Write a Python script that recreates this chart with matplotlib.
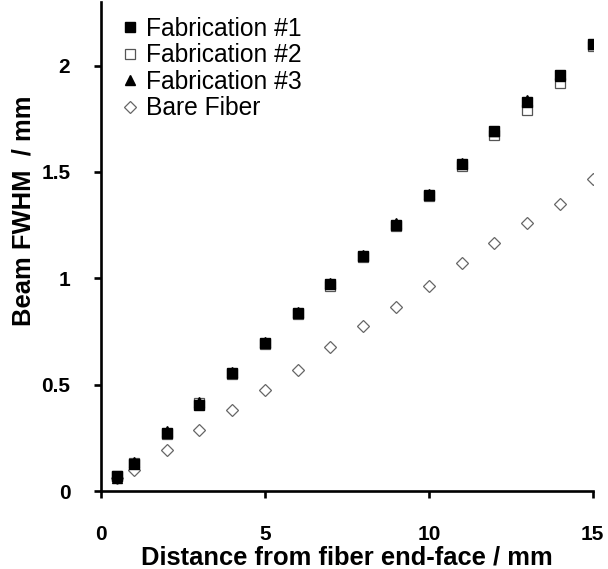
import matplotlib
matplotlib.use("Agg")
import matplotlib.pyplot as plt

plt.rcParams['font.family'] = ['Liberation Sans', 'DejaVu Sans']

# distance from fiber end-face (mm)
distance = [0.5, 1, 2, 3, 4, 5, 6, 7, 8, 9, 10, 11, 12, 13, 14, 15]
# beam FWHM (mm)
fab1 = [0.07, 0.125, 0.275, 0.405, 0.555, 0.695, 0.835, 0.975, 1.105, 1.25, 1.39, 1.535, 1.69, 1.83, 1.955, 2.10]
fab2 = [0.07, 0.13, 0.27, 0.415, 0.55, 0.69, 0.83, 0.965, 1.10, 1.245, 1.385, 1.53, 1.675, 1.79, 1.92, 2.09]
fab3 = [0.06, 0.135, 0.28, 0.42, 0.56, 0.70, 0.84, 0.98, 1.11, 1.26, 1.395, 1.54, 1.69, 1.84, 1.95, 2.10]
bare = [0.06, 0.10, 0.195, 0.285, 0.38, 0.475, 0.57, 0.675, 0.775, 0.865, 0.965, 1.07, 1.165, 1.26, 1.35, 1.465]

fig = plt.figure(figsize=(6.08, 5.69), dpi=100)
ax = fig.add_axes([0.166, 0.137, 0.809, 0.86])

ax.plot(distance, fab1, 's', ms=6.5, color='black', mec='black', label='Fabrication #1', zorder=3)
ax.plot(distance, fab2, 's', ms=6.8, mfc='white', mec='#555555', mew=0.9, label='Fabrication #2', zorder=2)
ax.plot(distance, fab3, '^', ms=7, color='black', label='Fabrication #3', zorder=4)
ax.plot(distance, bare, 'D', ms=6.3, mfc='white', mec='#666666', mew=0.9, label='Bare Fiber', zorder=2)

ax.set_xlim(0, 15)
ax.set_ylim(0, 2.3)
ax.set_xticks([0, 5, 10, 15])
ax.set_yticks([0, 0.5, 1, 1.5, 2])
ax.set_yticklabels(['0', '0.5', '1', '1.5', '2'])

for s in ['top', 'right']:
    ax.spines[s].set_visible(False)
for s in ['left', 'bottom']:
    ax.spines[s].set_linewidth(1.9)

ax.tick_params(axis='x', direction='out', length=5, width=1.9, pad=19.5, labelsize=15)
ax.tick_params(axis='y', direction='out', length=5, width=1.9, pad=17, labelsize=15)
for lab in ax.get_xticklabels() + ax.get_yticklabels():
    lab.set_fontweight('bold')

ax.set_xlabel('Distance from fiber end-face / mm', fontsize=18.4, fontweight='bold')
ax.set_ylabel('Beam FWHM  / mm', fontsize=18.4, fontweight='bold')
ax.xaxis.set_label_coords(0.5, -0.112)
ax.yaxis.set_label_coords(-0.134, 0.573)

ax.legend(loc='upper left', bbox_to_anchor=(0.034, 0.974), frameon=False, fontsize=17.7,
          handlelength=0.8, handletextpad=0.25, labelspacing=0.1, borderaxespad=0,
          borderpad=0.1)

fig.savefig('out.png', dpi=100)
